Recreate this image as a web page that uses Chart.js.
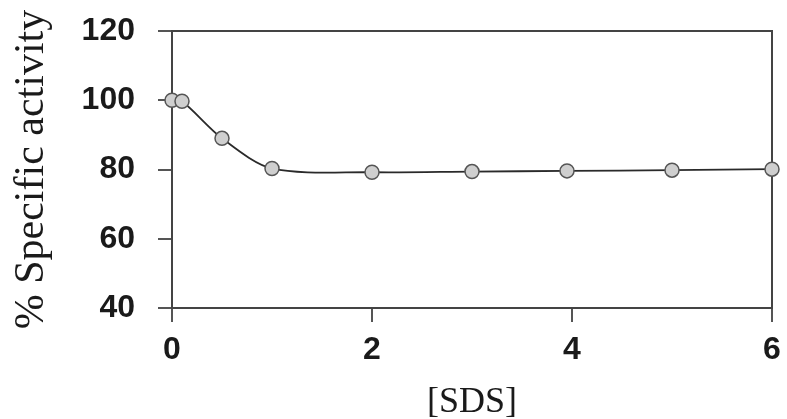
<!DOCTYPE html>
<html>
<head>
<meta charset="utf-8">
<script src="https://cdn.jsdelivr.net/npm/chart.js@4/dist/chart.umd.min.js"></script>
<style>
  html, body { margin: 0; padding: 0; background: #fff; }
  #wrap { width: 787px; height: 419px; }
</style>
</head>
<body>
<div id="wrap"><canvas id="chart"></canvas></div>
<script>
// SDS concentration vs remaining specific activity
const sdsConc = [0, 0.1, 0.5, 1, 2, 3, 3.95, 5, 6];
const activity = [100, 99.7, 89, 80.3, 79.2, 79.4, 79.6, 79.8, 80.1];
const xTicks = [0, 2, 4, 6];
const yTicks = [40, 60, 80, 100, 120];

const tickFont = { family: "'Liberation Sans Narrow', 'Arial Narrow', 'Liberation Sans', sans-serif", size: 32, weight: 'bold' };

// draw the top and right sides of the frame
const frame = {
    id: 'frame',
    beforeDatasetsDraw(chart) {
        const { ctx, chartArea: a } = chart;
        ctx.save();
        ctx.strokeStyle = '#444';
        ctx.lineWidth = 2;
        ctx.beginPath();
        ctx.moveTo(a.left, a.top);
        ctx.lineTo(a.right, a.top);
        ctx.lineTo(a.right, a.bottom);
        ctx.stroke();
        ctx.restore();
    }
};

new Chart(document.getElementById('chart'), {
    type: 'scatter',
    data: {
        datasets: [{
            data: sdsConc.map((x, i) => ({ x: x, y: activity[i] })),
            showLine: true,
            tension: 0.3,
            borderColor: '#2a2a2a',
            borderWidth: 1.8,
            pointRadius: 7,
            pointBackgroundColor: '#cfcfcf',
            pointBorderColor: '#555',
            pointBorderWidth: 1.5,
            clip: false
        }]
    },
    options: {
        responsive: true,
        maintainAspectRatio: false,
        animation: false,
        layout: { padding: { top: 31, right: 15, bottom: 0, left: 0 } },
        plugins: { legend: { display: false }, tooltip: { enabled: false } },
        scales: {
            x: {
                type: 'linear',
                min: 0,
                max: 6,
                afterBuildTicks: s => { s.ticks = xTicks.map(v => ({ value: v })); },
                afterFit: s => { s.height = 111; s.paddingLeft = 0; s.paddingRight = 0; },
                ticks: { font: tickFont, color: '#1a1a1a', padding: 9, maxRotation: 0 },
                grid: { drawOnChartArea: false, tickLength: 14, color: '#555', lineWidth: 2 },
                border: { color: '#444', width: 2 },
                title: {
                    display: true,
                    text: '[SDS]',
                    color: '#1a1a1a',
                    font: { family: "'Liberation Serif', 'Times New Roman', serif", size: 36, lineHeight: 1 },
                    padding: { top: 0, bottom: -2 }
                }
            },
            y: {
                min: 40,
                max: 120,
                afterBuildTicks: s => { s.ticks = yTicks.map(v => ({ value: v })); },
                afterFit: s => { s.width = 172; s.paddingTop = 0; s.paddingBottom = 0; },
                ticks: { font: tickFont, color: '#1a1a1a', padding: 23 },
                grid: { drawOnChartArea: false, tickLength: 14, color: '#555', lineWidth: 2 },
                border: { color: '#444', width: 2 },
                title: {
                    display: true,
                    text: '% Specific activity',
                    color: '#1a1a1a',
                    font: { family: "'Liberation Serif', 'Times New Roman', serif", size: 42, lineHeight: 1 },
                    padding: { top: 11, bottom: 0 }
                }
            }
        }
    },
    plugins: [frame]
});
</script>
</body>
</html>
